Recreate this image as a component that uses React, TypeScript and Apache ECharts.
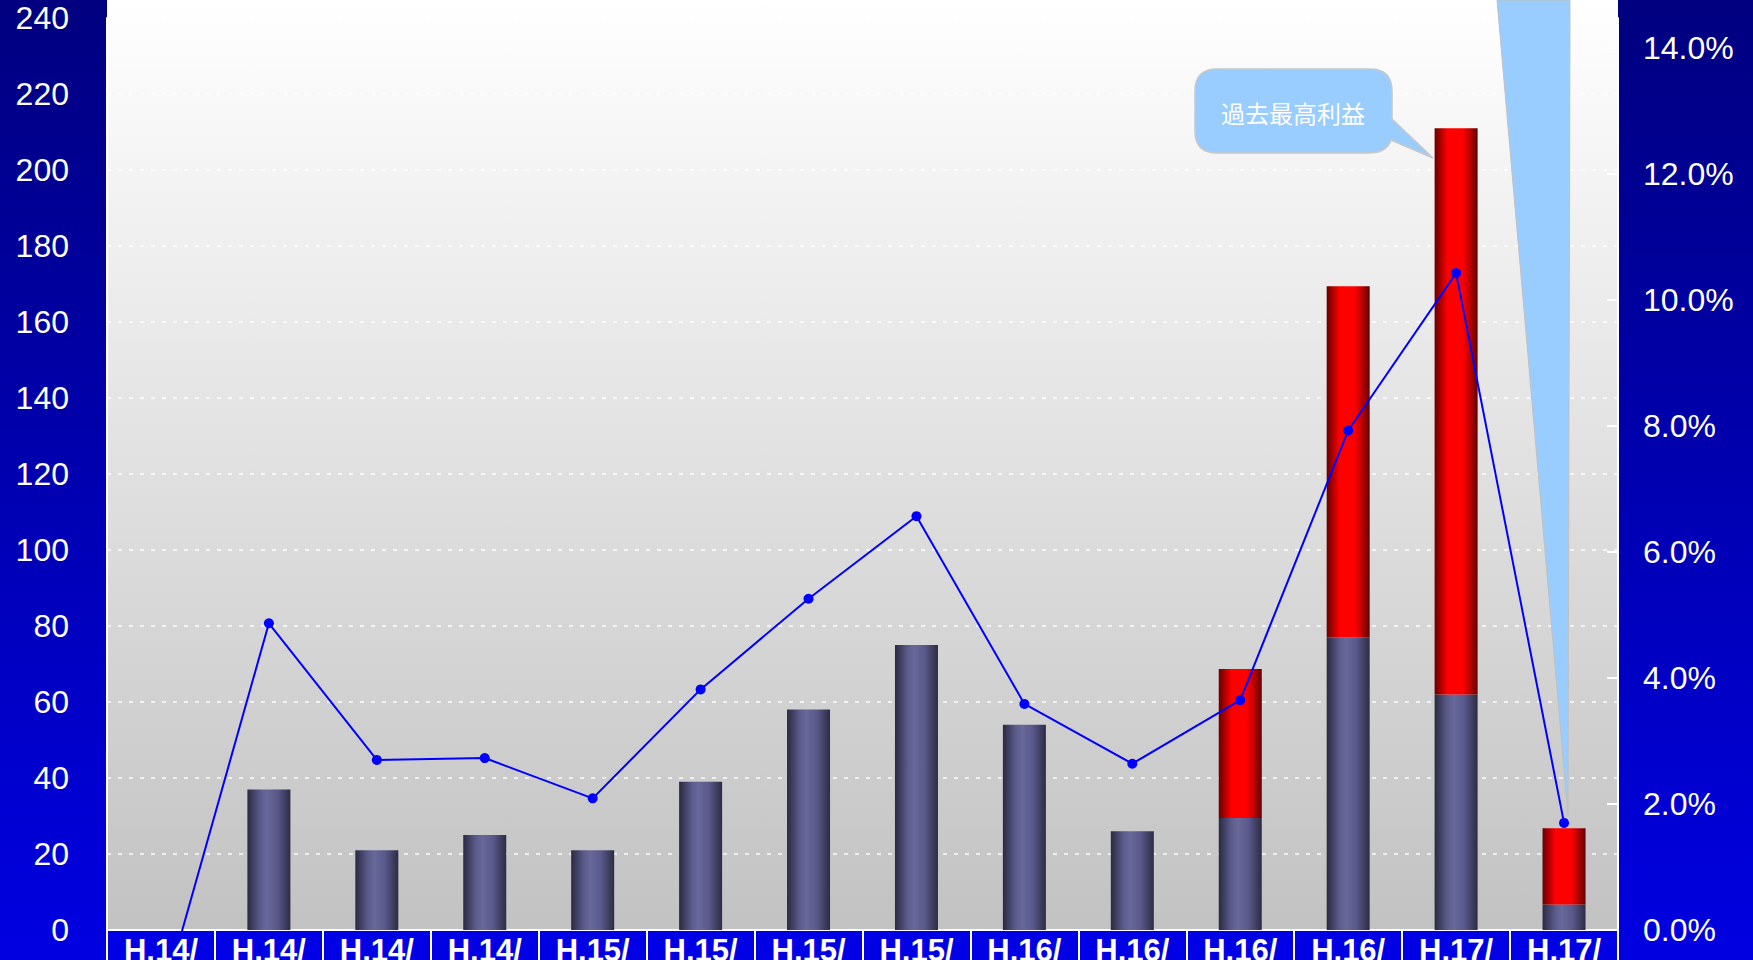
import React, { useEffect, useRef } from "react";
import * as echarts from "echarts";

const categories = ["H.14/", "H.14/", "H.14/", "H.14/", "H.15/", "H.15/", "H.15/", "H.15/", "H.16/", "H.16/", "H.16/", "H.16/", "H.17/", "H.17/"];
const baseProfit = [0, 37, 21, 25, 21, 39, 58, 75, 54, 26, 29.5, 77, 62, 6.7];
const extraProfit = [0, 0, 0, 0, 0, 0, 0, 0, 0, 0, 39.2, 92.4, 149, 20.1];
const marginRate = [-1.2, 4.87, 2.7, 2.73, 2.09, 3.82, 5.26, 6.57, 3.59, 2.64, 3.65, 7.93, 10.43, 1.7];
const leftTicks = { min: 0, max: 240, interval: 20 };
const rightTicks = { min: 0, max: 14.48, interval: 2 };
const calloutText = "過去最高利益";

const W = 1753;
const H = 960;
const GL = 107;
const GR = 1618;
const GT = 18;
const GB = 930;

const calloutPath =
  "M 1217 69 L 1370 69 Q 1392 69 1392 91 L 1392 119 L 1433 158 L 1391 140 Q 1387 153 1368 153 L 1217 153 Q 1195 153 1195 131 L 1195 91 Q 1195 69 1217 69 Z";

export default function App() {
  const ref = useRef<HTMLDivElement>(null);
  useEffect(() => {
    if (!ref.current) return;
    try {
      echarts.graphic.registerShape("callout", echarts.graphic.extendPath(calloutPath, {}));
    } catch (e) {}
    const chart = echarts.init(ref.current, undefined, { renderer: "svg" });
    const panelGrad = {
      type: "linear", x: 0, y: 0, x2: 0, y2: 1,
      colorStops: [
        { offset: 0, color: "#000080" },
        { offset: 1, color: "#0000e2" },
      ],
    };
    const grayGrad = {
      type: "linear", x: 0, y: 0, x2: 1, y2: 0,
      colorStops: [
        { offset: 0, color: "#2a2a42" },
        { offset: 0.3, color: "#5c5c8c" },
        { offset: 0.45, color: "#68689a" },
        { offset: 0.7, color: "#58588a" },
        { offset: 1, color: "#2c2c44" },
      ],
    };
    const redGrad = {
      type: "linear", x: 0, y: 0, x2: 1, y2: 0,
      colorStops: [
        { offset: 0, color: "#660000" },
        { offset: 0.3, color: "#ff0000" },
        { offset: 0.65, color: "#ff0000" },
        { offset: 0.85, color: "#b00000" },
        { offset: 1, color: "#5a0000" },
      ],
    };
    chart.setOption({
      animation: false,
      backgroundColor: "transparent",
      grid: {
        left: GL, right: W - GR, top: GT, bottom: H - GB,
        containLabel: false, outerBoundsMode: "none",
      },
      graphic: {
        elements: [
          {
            type: "rect", z: -10, silent: true,
            shape: { x: GL, y: 0, width: GR - GL, height: GB },
            style: {
              fill: {
                type: "linear", x: 0, y: 0, x2: 0, y2: 1,
                colorStops: [
                  { offset: 0, color: "#ffffff" },
                  { offset: 1, color: "#c2c2c2" },
                ],
              },
            },
          },
          { type: "rect", z: -10, silent: true, shape: { x: 0, y: 0, width: GL, height: H }, style: { fill: panelGrad } },
          { type: "rect", z: -10, silent: true, shape: { x: GR, y: 0, width: W - GR, height: H }, style: { fill: panelGrad } },
          { type: "rect", z: -10, silent: true, shape: { x: GL, y: GB, width: GR - GL, height: H - GB }, style: { fill: "#0000e4" } },
          {
            type: "polygon", z: 50, silent: true,
            shape: { points: [[1497, 0], [1570, 0], [1568, 815]] },
            style: { fill: "#99ccff", stroke: "#c0c0c0", lineWidth: 1 },
          },
          {
            type: "callout", z: 50, silent: true, x: 0, y: 0,
            style: { fill: "#99ccff", stroke: "#c8c8c8", lineWidth: 1.5 },
          },
          {
            type: "text", z: 51, silent: true, x: 1293, y: 112,
            style: {
              text: calloutText, fill: "#ffffff", fontSize: 24,
              fontFamily: "Noto Sans CJK JP", align: "center", verticalAlign: "middle",
            },
          },
        ],
      },
      xAxis: {
        type: "category",
        data: categories,
        boundaryGap: true,
        axisLine: { show: true, lineStyle: { color: "#ffffff", width: 2 } },
        axisTick: { show: true, interval: 0, length: 30, lineStyle: { color: "#ffffff", width: 2 } },
        axisLabel: {
          interval: 0, margin: 5, color: "#ffffff", fontSize: 31, fontWeight: "bold",
          fontFamily: "'Liberation Sans Narrow', 'Liberation Sans', Arial, sans-serif",
        },
        splitLine: { show: false },
      },
      yAxis: [
        {
          type: "value", position: "left",
          min: leftTicks.min, max: leftTicks.max, interval: leftTicks.interval,
          axisLine: { show: true, lineStyle: { color: "#ffffff", width: 2 } },
          axisTick: { show: false },
          axisLabel: { margin: 38, color: "#ffffff", fontSize: 32, fontFamily: "Liberation Sans" },
          splitLine: { show: true, lineStyle: { color: "rgba(255,255,255,0.95)", width: 1.5, type: [4, 7] } },
        },
        {
          type: "value", position: "right",
          min: rightTicks.min, max: rightTicks.max, interval: rightTicks.interval,
          axisLine: { show: true, lineStyle: { color: "#ffffff", width: 2 } },
          axisTick: { show: true, inside: true, length: 11, lineStyle: { color: "#ffffff", width: 2 } },
          axisLabel: {
            margin: 25, color: "#ffffff", fontSize: 32, fontFamily: "Liberation Sans",
            showMaxLabel: false,
            formatter: (v: number) => v.toFixed(1) + "%",
          },
          splitLine: { show: false },
        },
      ],
      series: [
        {
          type: "bar", stack: "p", barWidth: 43, data: baseProfit,
          itemStyle: { color: grayGrad },
          z: 3,
        },
        {
          type: "bar", stack: "p", barWidth: 43, data: extraProfit,
          itemStyle: { color: redGrad },
          z: 3,
        },
        {
          type: "line", yAxisIndex: 1, data: marginRate, clip: true,
          symbol: "circle", symbolSize: 10, showSymbol: true,
          lineStyle: { color: "#0000ff", width: 2 },
          itemStyle: { color: "#0000ff" },
          z: 5,
        },
      ],
    });
    return () => chart.dispose();
  }, []);
  return <div ref={ref} style={{ position: "absolute", left: 0, top: 0, width: W, height: H }} />;
}
